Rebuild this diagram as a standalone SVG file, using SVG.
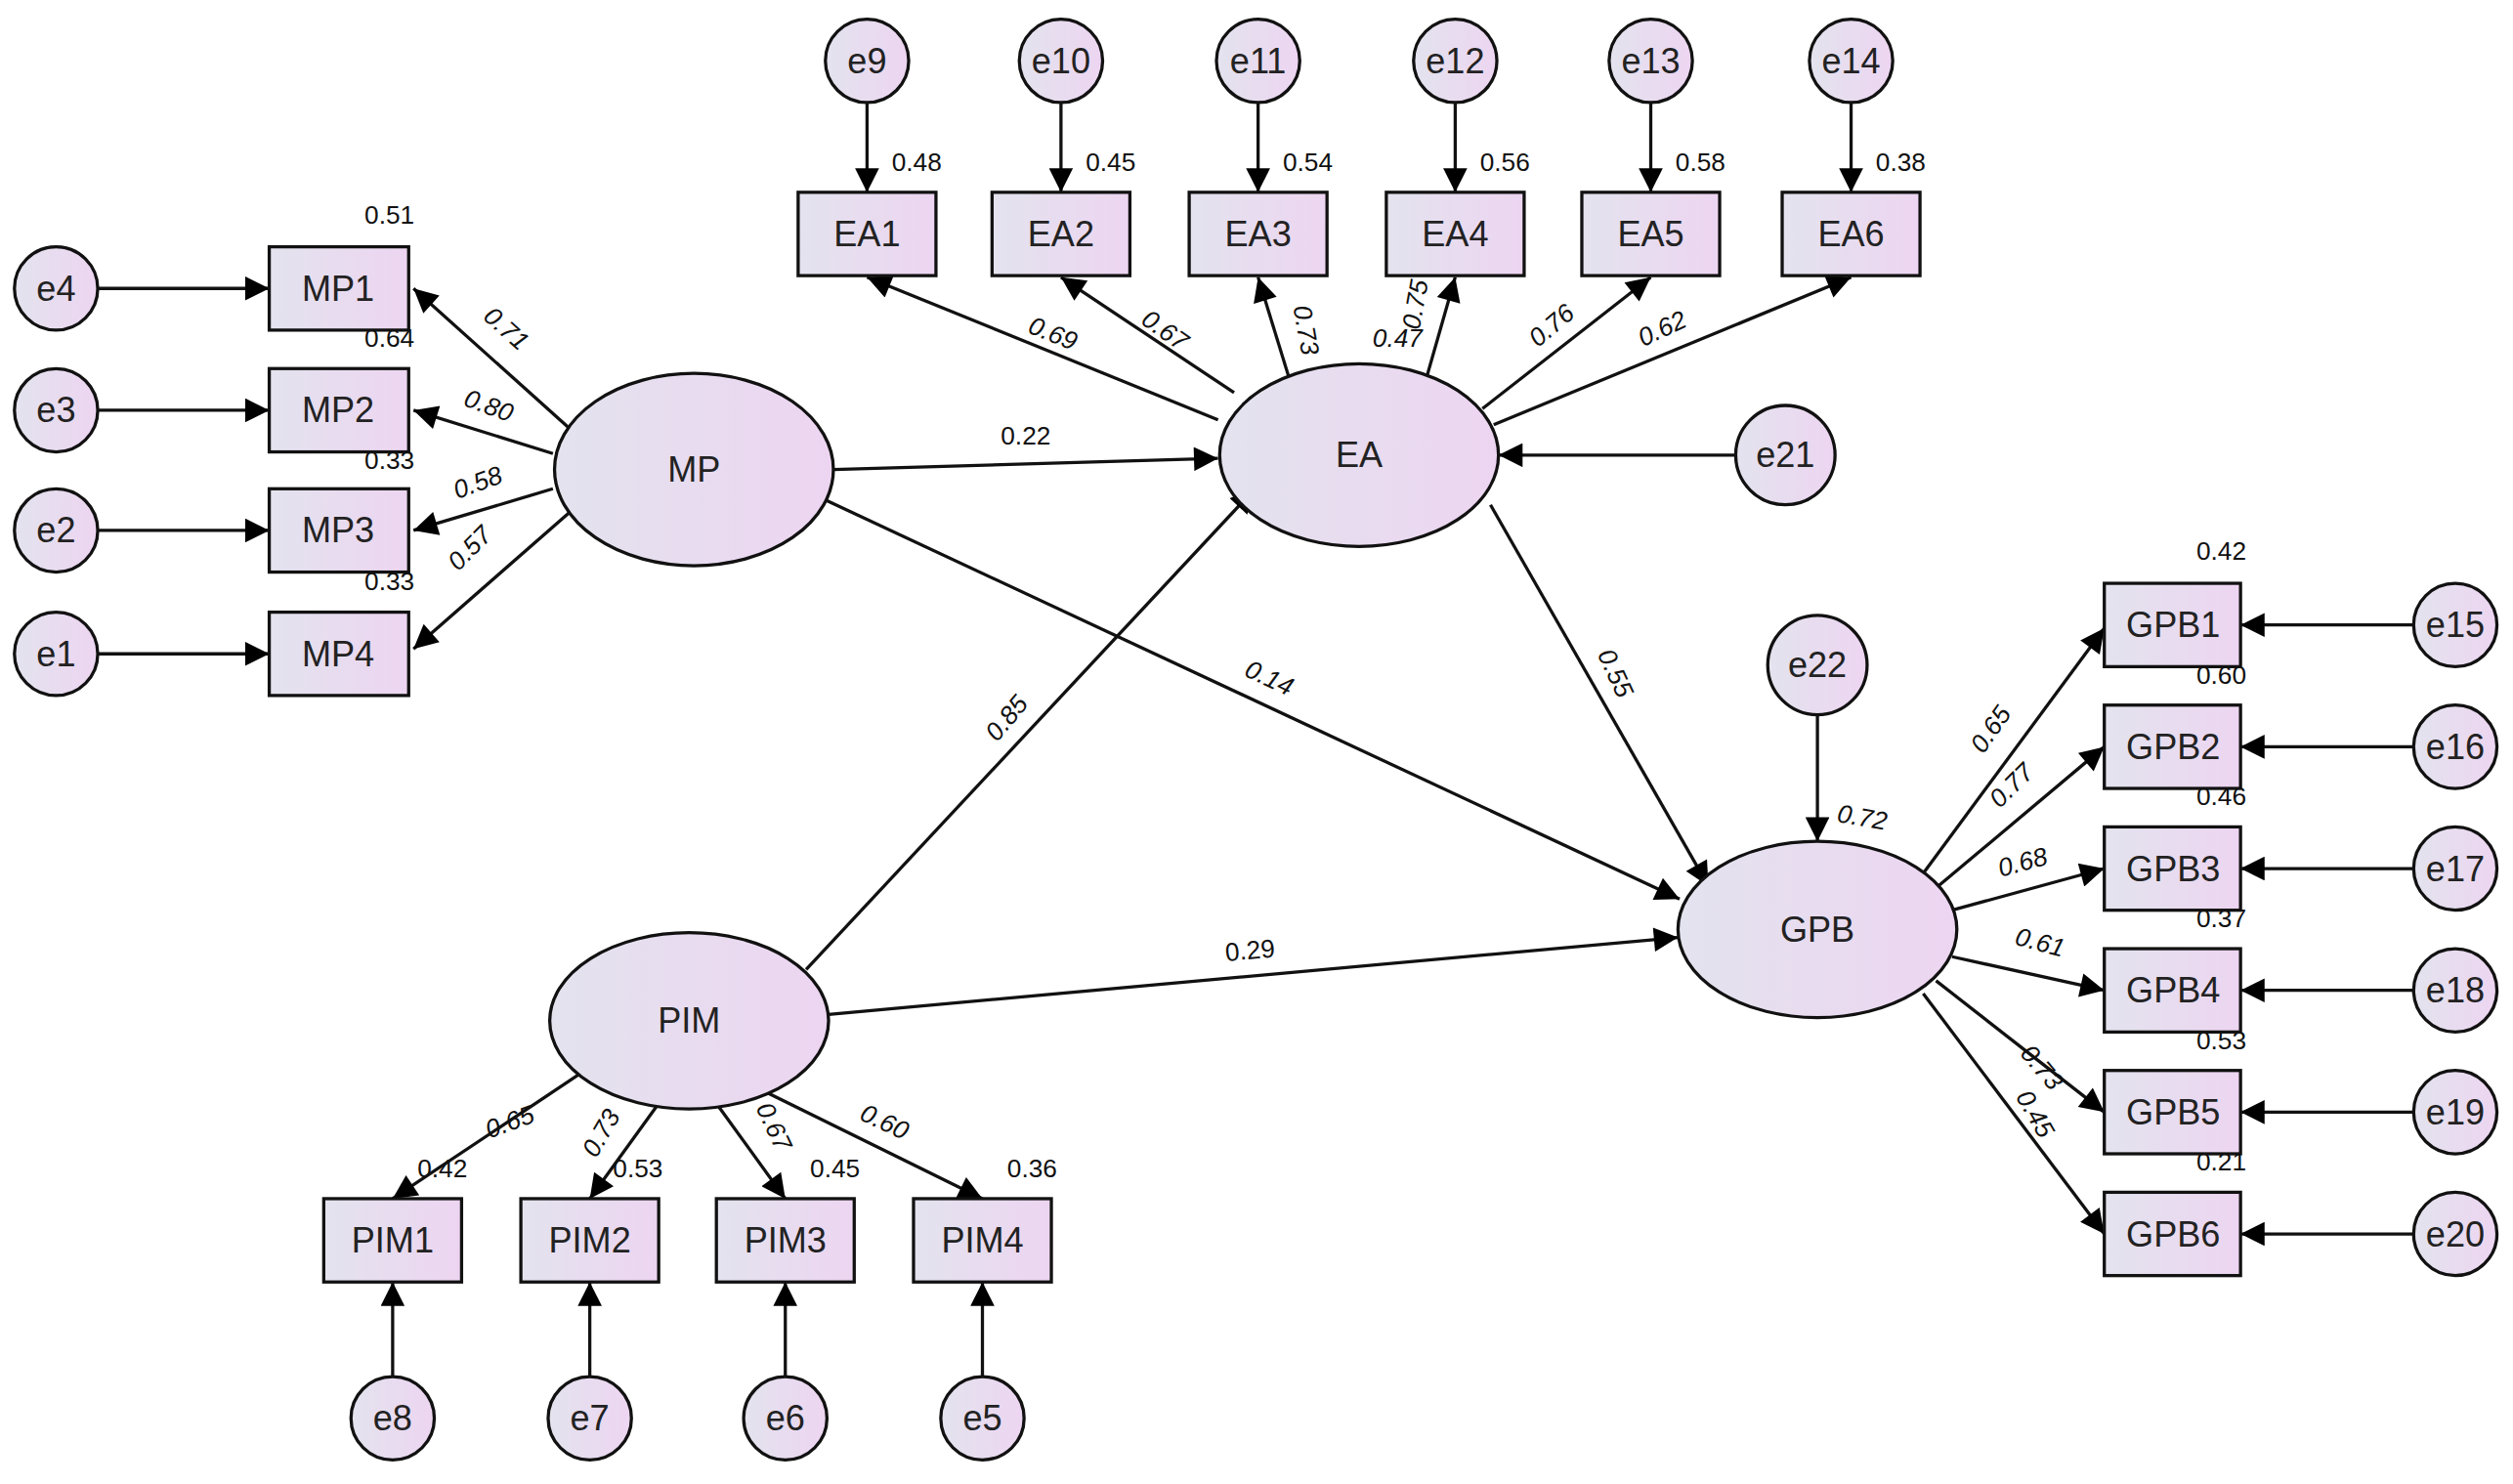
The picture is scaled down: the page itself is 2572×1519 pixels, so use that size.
<svg xmlns="http://www.w3.org/2000/svg" width="2572" height="1519" viewBox="0 0 2572 1519">
<defs>
<linearGradient id="g" x1="0" y1="0" x2="1" y2="0"><stop offset="0" stop-color="#e3e3ee"/><stop offset="1" stop-color="#edd5f1"/></linearGradient>
<marker id="a" viewBox="0 0 10 10" refX="10" refY="5" markerWidth="10" markerHeight="7" markerUnits="userSpaceOnUse" orient="auto"><path d="M0,0L10,5L0,10z" fill="#000"/></marker>
<style>
.n{fill:url(#g);stroke:#111;stroke-width:2}
.t{font-family:"Liberation Sans",Arial,sans-serif;font-size:22px;fill:#222;text-anchor:middle;dominant-baseline:central}
.l{font-family:"Liberation Sans",Arial,sans-serif;font-size:16px;fill:#111;text-anchor:middle;dominant-baseline:central}
.i{font-style:italic}
#c line{stroke:#111;stroke-width:2;marker-end:url(#a)}
</style>
</defs>
<rect width="2572" height="1519" fill="#fff"/>
<g transform="scale(1.6403)">
<defs><marker id="b" viewBox="0 0 10 10" refX="10" refY="5" markerWidth="20" markerHeight="15" markerUnits="userSpaceOnUse" orient="auto"><path d="M0,0L10,5L0,10z" fill="#000"/></marker></defs>
<style>#c line{marker-end:url(#b)}</style>
<g id="c">
<line x1="61" y1="180" x2="168" y2="180"/><line x1="61" y1="256" x2="168" y2="256"/><line x1="61" y1="331" x2="168" y2="331"/><line x1="61" y1="408" x2="168" y2="408"/>
<line x1="355" y1="267" x2="258" y2="180"/><line x1="345" y1="283" x2="258" y2="256"/><line x1="345" y1="305" x2="258" y2="331"/><line x1="355" y1="320" x2="258" y2="405"/>
<line x1="541" y1="64" x2="541" y2="120"/><line x1="662" y1="64" x2="662" y2="120"/><line x1="785" y1="64" x2="785" y2="120"/><line x1="908" y1="64" x2="908" y2="120"/><line x1="1030" y1="64" x2="1030" y2="120"/><line x1="1155" y1="64" x2="1155" y2="120"/>
<line x1="760" y1="262" x2="541" y2="173"/><line x1="770" y1="245" x2="662" y2="173"/><line x1="805" y1="238" x2="785" y2="173"/><line x1="890" y1="236" x2="908" y2="173"/><line x1="925" y1="255" x2="1030" y2="173"/><line x1="932" y1="265" x2="1155" y2="173"/>
<line x1="520" y1="293" x2="760" y2="286"/><line x1="515" y1="312" x2="1048" y2="561"/><line x1="503" y1="605" x2="783" y2="305"/><line x1="517" y1="633" x2="1047" y2="585"/><line x1="930" y1="315" x2="1066" y2="553"/>
<line x1="1134" y1="446" x2="1134" y2="525"/><line x1="1083" y1="284" x2="935" y2="284"/>
<line x1="1200" y1="545" x2="1313" y2="392"/><line x1="1207" y1="555" x2="1313" y2="466"/><line x1="1218" y1="568" x2="1313" y2="542"/><line x1="1218" y1="597" x2="1313" y2="618"/><line x1="1208" y1="612" x2="1313" y2="694"/><line x1="1200" y1="620" x2="1313" y2="770"/>
<line x1="1506" y1="390" x2="1398" y2="390"/><line x1="1506" y1="466" x2="1398" y2="466"/><line x1="1506" y1="542" x2="1398" y2="542"/><line x1="1506" y1="618" x2="1398" y2="618"/><line x1="1506" y1="694" x2="1398" y2="694"/><line x1="1506" y1="770" x2="1398" y2="770"/>
<line x1="365" y1="668" x2="245" y2="748"/><line x1="410" y1="690" x2="368" y2="748"/><line x1="448" y1="690" x2="490" y2="748"/><line x1="475" y1="680" x2="613" y2="748"/>
<line x1="245" y1="859" x2="245" y2="800"/><line x1="368" y1="859" x2="368" y2="800"/><line x1="490" y1="859" x2="490" y2="800"/><line x1="613" y1="859" x2="613" y2="800"/>
</g>
<g id="latent">
<g id="MP"><ellipse class="n" cx="433" cy="293" rx="87" ry="60"/><text class="t" x="433" y="293">MP</text></g>
<g id="EA"><ellipse class="n" cx="848" cy="284" rx="87" ry="57"/><text class="t" x="848" y="284">EA</text></g>
<g id="PIM"><ellipse class="n" cx="430" cy="637" rx="87" ry="55"/><text class="t" x="430" y="637">PIM</text></g>
<g id="GPB"><ellipse class="n" cx="1134" cy="580" rx="87" ry="55"/><text class="t" x="1134" y="580">GPB</text></g>
<g id="e21"><circle class="n" cx="1114" cy="284" r="31"/><text class="t" x="1114" y="284">e21</text></g>
<g id="e22"><circle class="n" cx="1134" cy="415" r="31"/><text class="t" x="1134" y="415">e22</text></g>
</g>
<g id="boxes">
<g id="MP1"><rect class="n" x="168" y="154" width="87" height="52"/><text class="t" x="211" y="180">MP1</text></g>
<g id="MP2"><rect class="n" x="168" y="230" width="87" height="52"/><text class="t" x="211" y="256">MP2</text></g>
<g id="MP3"><rect class="n" x="168" y="305" width="87" height="52"/><text class="t" x="211" y="331">MP3</text></g>
<g id="MP4"><rect class="n" x="168" y="382" width="87" height="52"/><text class="t" x="211" y="408">MP4</text></g>
<g id="EA1"><rect class="n" x="498" y="120" width="86" height="52"/><text class="t" x="541" y="146">EA1</text></g>
<g id="EA2"><rect class="n" x="619" y="120" width="86" height="52"/><text class="t" x="662" y="146">EA2</text></g>
<g id="EA3"><rect class="n" x="742" y="120" width="86" height="52"/><text class="t" x="785" y="146">EA3</text></g>
<g id="EA4"><rect class="n" x="865" y="120" width="86" height="52"/><text class="t" x="908" y="146">EA4</text></g>
<g id="EA5"><rect class="n" x="987" y="120" width="86" height="52"/><text class="t" x="1030" y="146">EA5</text></g>
<g id="EA6"><rect class="n" x="1112" y="120" width="86" height="52"/><text class="t" x="1155" y="146">EA6</text></g>
<g id="GPB1"><rect class="n" x="1313" y="364" width="85" height="52"/><text class="t" x="1356" y="390">GPB1</text></g>
<g id="GPB2"><rect class="n" x="1313" y="440" width="85" height="52"/><text class="t" x="1356" y="466">GPB2</text></g>
<g id="GPB3"><rect class="n" x="1313" y="516" width="85" height="52"/><text class="t" x="1356" y="542">GPB3</text></g>
<g id="GPB4"><rect class="n" x="1313" y="592" width="85" height="52"/><text class="t" x="1356" y="618">GPB4</text></g>
<g id="GPB5"><rect class="n" x="1313" y="668" width="85" height="52"/><text class="t" x="1356" y="694">GPB5</text></g>
<g id="GPB6"><rect class="n" x="1313" y="744" width="85" height="52"/><text class="t" x="1356" y="770">GPB6</text></g>
<g id="PIM1"><rect class="n" x="202" y="748" width="86" height="52"/><text class="t" x="245" y="774">PIM1</text></g>
<g id="PIM2"><rect class="n" x="325" y="748" width="86" height="52"/><text class="t" x="368" y="774">PIM2</text></g>
<g id="PIM3"><rect class="n" x="447" y="748" width="86" height="52"/><text class="t" x="490" y="774">PIM3</text></g>
<g id="PIM4"><rect class="n" x="570" y="748" width="86" height="52"/><text class="t" x="613" y="774">PIM4</text></g>
</g>
<g id="errors">
<g id="e4"><circle class="n" cx="35" cy="180" r="26"/><text class="t" x="35" y="180">e4</text></g>
<g id="e3"><circle class="n" cx="35" cy="256" r="26"/><text class="t" x="35" y="256">e3</text></g>
<g id="e2"><circle class="n" cx="35" cy="331" r="26"/><text class="t" x="35" y="331">e2</text></g>
<g id="e1"><circle class="n" cx="35" cy="408" r="26"/><text class="t" x="35" y="408">e1</text></g>
<g id="e9"><circle class="n" cx="541" cy="38" r="26"/><text class="t" x="541" y="38">e9</text></g>
<g id="e10"><circle class="n" cx="662" cy="38" r="26"/><text class="t" x="662" y="38">e10</text></g>
<g id="e11"><circle class="n" cx="785" cy="38" r="26"/><text class="t" x="785" y="38">e11</text></g>
<g id="e12"><circle class="n" cx="908" cy="38" r="26"/><text class="t" x="908" y="38">e12</text></g>
<g id="e13"><circle class="n" cx="1030" cy="38" r="26"/><text class="t" x="1030" y="38">e13</text></g>
<g id="e14"><circle class="n" cx="1155" cy="38" r="26"/><text class="t" x="1155" y="38">e14</text></g>
<g id="e15"><circle class="n" cx="1532" cy="390" r="26"/><text class="t" x="1532" y="390">e15</text></g>
<g id="e16"><circle class="n" cx="1532" cy="466" r="26"/><text class="t" x="1532" y="466">e16</text></g>
<g id="e17"><circle class="n" cx="1532" cy="542" r="26"/><text class="t" x="1532" y="542">e17</text></g>
<g id="e18"><circle class="n" cx="1532" cy="618" r="26"/><text class="t" x="1532" y="618">e18</text></g>
<g id="e19"><circle class="n" cx="1532" cy="694" r="26"/><text class="t" x="1532" y="694">e19</text></g>
<g id="e20"><circle class="n" cx="1532" cy="770" r="26"/><text class="t" x="1532" y="770">e20</text></g>
<g id="e8"><circle class="n" cx="245" cy="885" r="26"/><text class="t" x="245" y="885">e8</text></g>
<g id="e7"><circle class="n" cx="368" cy="885" r="26"/><text class="t" x="368" y="885">e7</text></g>
<g id="e6"><circle class="n" cx="490" cy="885" r="26"/><text class="t" x="490" y="885">e6</text></g>
<g id="e5"><circle class="n" cx="613" cy="885" r="26"/><text class="t" x="613" y="885">e5</text></g>
</g>
<g id="labels">
<text class="l" x="243" y="134">0.51</text><text class="l" x="243" y="211">0.64</text><text class="l" x="243" y="287">0.33</text><text class="l" x="243" y="363">0.33</text>
<text class="l" x="572" y="101">0.48</text><text class="l" x="693" y="101">0.45</text><text class="l" x="816" y="101">0.54</text><text class="l" x="939" y="101">0.56</text><text class="l" x="1061" y="101">0.58</text><text class="l" x="1186" y="101">0.38</text>
<text class="l" x="1386" y="344">0.42</text><text class="l" x="1386" y="421">0.60</text><text class="l" x="1386" y="497">0.46</text><text class="l" x="1386" y="573">0.37</text><text class="l" x="1386" y="649">0.53</text><text class="l" x="1386" y="725">0.21</text>
<text class="l" x="276" y="729">0.42</text><text class="l" x="398" y="729">0.53</text><text class="l" x="521" y="729">0.45</text><text class="l" x="644" y="729">0.36</text>
<text class="l" x="640" y="272">0.22</text>
<text class="l" x="780" y="593" transform="rotate(-5 780 593)">0.29</text>
<text class="l i" x="316" y="205" transform="rotate(42 316 205)">0.71</text>
<text class="l i" x="305" y="253" transform="rotate(20 305 253)">0.80</text>
<text class="l i" x="298" y="301" transform="rotate(-20 298 301)">0.58</text>
<text class="l i" x="293" y="342" transform="rotate(-45 293 342)">0.57</text>
<text class="l i" x="657" y="208" transform="rotate(22 657 208)">0.69</text>
<text class="l i" x="727" y="206" transform="rotate(35 727 206)">0.67</text>
<text class="l i" x="815" y="206" transform="rotate(80 815 206)">0.73</text>
<text class="l i" x="872" y="211">0.47</text>
<text class="l i" x="883" y="190" transform="rotate(-80 883 190)">0.75</text>
<text class="l i" x="968" y="203" transform="rotate(-40 968 203)">0.76</text>
<text class="l i" x="1037" y="205" transform="rotate(-25 1037 205)">0.62</text>
<text class="l i" x="792" y="423" transform="rotate(25 792 423)">0.14</text>
<text class="l i" x="628" y="448" transform="rotate(-50 628 448)">0.85</text>
<text class="l i" x="1008" y="420" transform="rotate(65 1008 420)">0.55</text>
<text class="l i" x="1162" y="510" transform="rotate(10 1162 510)">0.72</text>
<text class="l i" x="1242" y="455" transform="rotate(-55 1242 455)">0.65</text>
<text class="l i" x="1255" y="490" transform="rotate(-45 1255 490)">0.77</text>
<text class="l i" x="1262" y="538" transform="rotate(-15 1262 538)">0.68</text>
<text class="l i" x="1273" y="588" transform="rotate(15 1273 588)">0.61</text>
<text class="l i" x="1274" y="666" transform="rotate(50 1274 666)">0.73</text>
<text class="l i" x="1270" y="695" transform="rotate(60 1270 695)">0.45</text>
<text class="l i" x="318" y="700" transform="rotate(-20 318 700)">0.65</text>
<text class="l i" x="375" y="707" transform="rotate(-60 375 707)">0.73</text>
<text class="l i" x="483" y="703" transform="rotate(65 483 703)">0.67</text>
<text class="l i" x="552" y="700" transform="rotate(25 552 700)">0.60</text>
</g>
</g>
</svg>
